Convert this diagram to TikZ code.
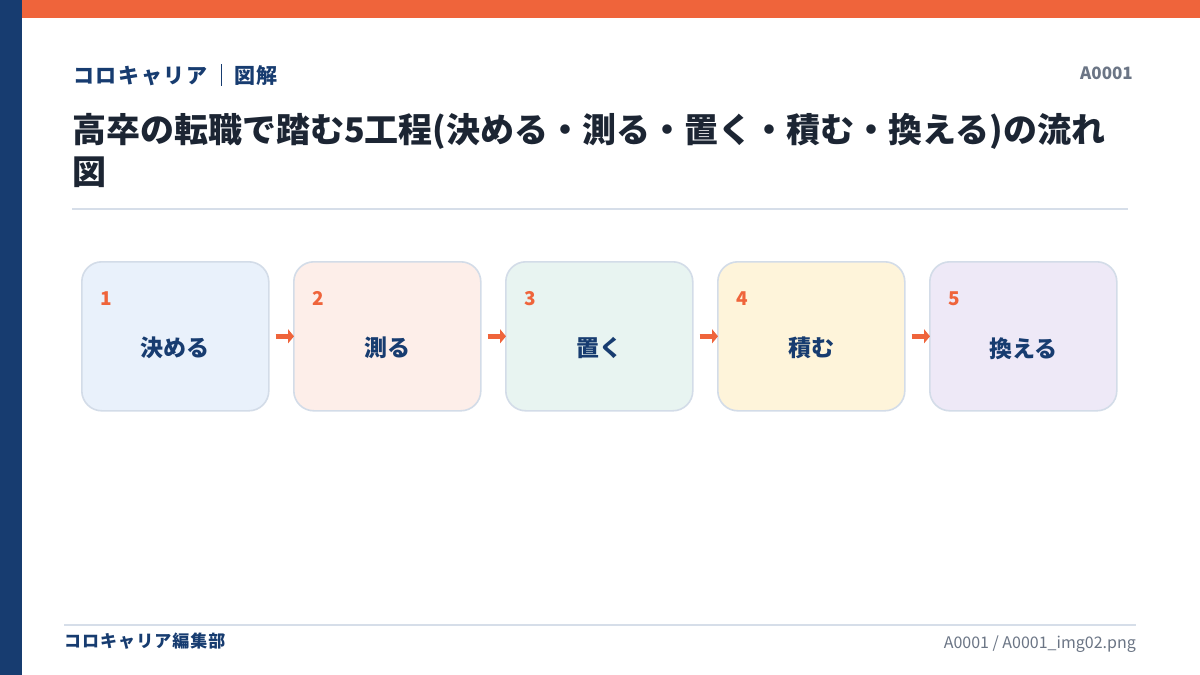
\documentclass[tikz,border=0pt]{standalone}
\usepackage{fontspec}
\setmainfont{Noto Sans CJK JP}
\usetikzlibrary{arrows.meta,calc}
\definecolor{navy}{HTML}{173C70}
\definecolor{orng}{HTML}{EF643B}
\definecolor{ink}{HTML}{1C2533}
\definecolor{gry}{HTML}{6B7585}
\definecolor{rule}{HTML}{D6DEE9}
\definecolor{bd}{HTML}{D3DCE8}
\definecolor{fa}{HTML}{E9F1FB}
\definecolor{fb}{HTML}{FDEEE9}
\definecolor{fc}{HTML}{E8F4F1}
\definecolor{fd}{HTML}{FEF4DA}
\definecolor{fe}{HTML}{EEE9F7}
\tikzset{
  stepbox/.style={draw=bd, line width=1.6pt, rounded corners=20pt, minimum width=187pt, minimum height=149pt, inner sep=0pt, anchor=north west},
  numlbl/.style={text=orng, font=\bfseries\fontsize{19}{22}\selectfont, anchor=base west, inner sep=0pt},
  steplbl/.style={text=navy, font=\bfseries\fontsize{23}{27}\selectfont, inner sep=0pt},
  flow/.style={draw=orng, line width=5pt, -{Triangle[length=6pt,width=14pt]}, shorten >=-1pt},
}
\begin{document}
\begin{tikzpicture}[x=1pt,y=-1pt]
\useasboundingbox (0,0) rectangle (1200,675);
\fill[white] (0,0) rectangle (1200,675);
\fill[orng] (22,0) rectangle (1200,18);
\fill[navy] (0,0) rectangle (22,675);
% header
\node[text=navy, font=\bfseries\fontsize{21}{24}\selectfont\addfontfeature{LetterSpace=8}, anchor=base west, inner sep=0pt] (brand) at (73,83) {コロキャリア};
\node[text=navy, font=\bfseries\fontsize{21}{24}\selectfont\addfontfeature{LetterSpace=8}, anchor=base west, inner sep=0pt] (kind) at (234,83) {図解};
\coordinate (sepT) at (221,64);
\coordinate (sepB) at (221,86);
\draw[navy, line width=0.8pt] (sepT) -- (sepB);
\node[text=gry, font=\bfseries\fontsize{17}{20}\selectfont, anchor=base east, inner sep=0pt] (code) at (1133,79) {A0001};
% title
\node[text=ink, font=\bfseries\fontsize{34}{42}\selectfont, anchor=north west, inner sep=0pt, align=left] (title) at (72,113) {高卒の転職で踏む5工程(決める・測る・置く・積む・換える)の流れ\\図};
\coordinate (r1a) at (72,209);
\coordinate (r1b) at (1128,209);
\draw[rule, line width=1.6pt] (r1a) -- (r1b);
% boxes
\foreach \i/\f/\t [count=\k from 0] in {1/fa/決める,2/fb/測る,3/fc/置く,4/fd/積む,5/fe/換える}{
  \node[stepbox, fill=\f] (b\i) at ({81+212*\k},261) {};
  \node[numlbl] (n\i) at ($(b\i.north west)+(19,44)$) {\i};
  \node[steplbl] (t\i) at ($(b\i.center)+(0,12)$) {\t};
}
\foreach \a/\b in {1/2,2/3,3/4,4/5}{
  \draw[flow] ($(b\a.east)+(6,0)$) -- (b\b.west);
}
% footer
\coordinate (r2a) at (64,625);
\coordinate (r2b) at (1136,625);
\draw[rule, line width=1.6pt] (r2a) -- (r2b);
\node[text=navy, font=\bfseries\fontsize{17}{20}\selectfont\addfontfeature{LetterSpace=6}, anchor=base west, inner sep=0pt] (dept) at (64,647) {コロキャリア編集部};
\node[text=gry, font=\fontsize{16}{20}\selectfont, anchor=base east, inner sep=0pt] (file) at (1136,648) {A0001 / A0001\_img02.png};
\end{tikzpicture}
\end{document}
